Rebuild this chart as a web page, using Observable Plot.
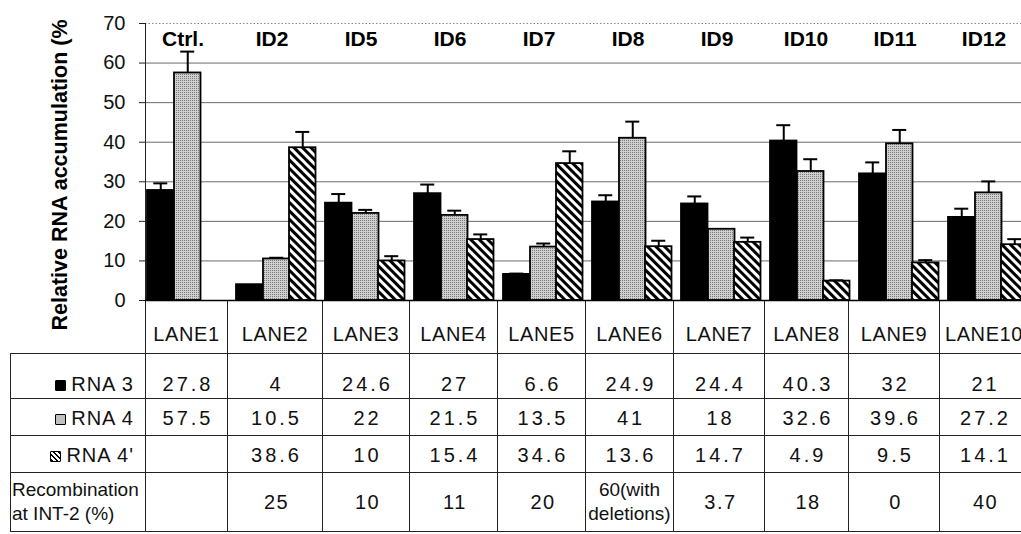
<!DOCTYPE html>
<html><head><meta charset="utf-8">
<script src="https://cdn.jsdelivr.net/npm/d3@7"></script>
<script src="https://cdn.jsdelivr.net/npm/@observablehq/plot@0.6"></script>
<style>
html,body{margin:0;padding:0;background:#fff;}
body{width:1021px;height:534px;overflow:hidden;font-family:"Liberation Sans",Arial,sans-serif;color:#111;}
#chart svg{overflow:visible;display:block;}
#tbl{border-collapse:collapse;table-layout:fixed;margin-left:10px;width:1018px;font-size:20px;}
#tbl td{border:1px solid #222;padding:0;text-align:center;vertical-align:middle;white-space:nowrap;overflow:hidden;}
#tbl tr.hdr{height:53px;}
#tbl tr.hdr td{border-top:none;vertical-align:bottom;padding-bottom:7px;letter-spacing:0.6px;}
#tbl tr.hdr td.blank{border-left:none;}
#tbl td.lab{text-align:right;padding-right:11px;letter-spacing:1px;}
#tbl td.num{letter-spacing:3px;padding-left:3px;}
#tbl tr.r3{height:45px;}
#tbl tr.r3 td{vertical-align:bottom;padding-bottom:2px;}
#tbl tr.r4, #tbl tr.r4p{height:37px;}
#tbl tr.r4 td, #tbl tr.r4p td{padding-top:3px;}
#tbl tr.rec{height:59px;}
#tbl tr.rec td{line-height:24px;}
#tbl tr.rec td.num{letter-spacing:1.5px;}
#tbl td.reclab{text-align:left;padding-left:1px;letter-spacing:0;font-size:19px;}
#tbl td.small{letter-spacing:0 !important;padding-left:0 !important;font-size:19px;}
.sw{display:inline-block;width:11px;height:11px;margin-right:5px;vertical-align:0px;box-sizing:border-box;border:1.5px solid #000;border-radius:1px;}
.sw.s3{background:#000;}
.sw.s4{background:#c0c0c0;}
.sw.s4p{background:repeating-linear-gradient(45deg,#000 0 1.8px,#fff 1.8px 3.6px);}
</style></head><body>
<div id="chart"></div>
<div id="tablewrap"></div>
<script>
// ---- data ----
const lanes = ["LANE1","LANE2","LANE3","LANE4","LANE5","LANE6","LANE7","LANE8","LANE9","LANE10"];
const ids = ["Ctrl.","ID2","ID5","ID6","ID7","ID8","ID9","ID10","ID11","ID12"];
const rna3 = [27.8, 4, 24.6, 27, 6.6, 24.9, 24.4, 40.3, 32, 21];
const rna4 = [57.5, 10.5, 22, 21.5, 13.5, 41, 18, 32.6, 39.6, 27.2];
const rna4p = [null, 38.6, 10, 15.4, 34.6, 13.6, 14.7, 4.9, 9.5, 14.1];
const rna3Err = [1.8, 0, 2.3, 2.3, 0.2, 1.7, 1.9, 4.0, 2.9, 2.2];
const rna4Err = [5.4, 0.3, 0.9, 1.2, 0.9, 4.2, 0, 3.1, 3.5, 2.9];
const rna4pErr = [null, 4.0, 1.2, 1.3, 3.1, 1.5, 1.2, 0.2, 0.7, 1.4];
const recomb = ["", "25", "10", "11", "20", "60(with<br>deletions)", "3.7", "18", "0", "40"];
const yTicks = [0, 10, 20, 30, 40, 50, 60, 70];
const yTitle = "Relative RNA accumulation (%";

const rows = lanes.map((lane, i) => ({
  lane, id: ids[i],
  r3: rna3[i], r4: rna4[i], r4p: rna4p[i],
  e3: rna3Err[i], e4: rna4Err[i], e4p: rna4pErr[i]
}));

// ---- layout / style ----
const X0 = 138, X1 = 1028;
const BW = (X1 - X0) / lanes.length;
const slot = [9, 36, 62], barW = 26.5, capW = 14;

function bars(key, fill, k) {
  return Plot.barY(rows.filter(d => d[key] != null), {
    x: "lane", y: key, fill, stroke: "#000", strokeWidth: 1.8,
    insetLeft: slot[k], insetRight: BW - slot[k] - barW
  });
}
function errs(key, ekey, k) {
  const data = rows.filter(d => d[key] != null && d[ekey] > 0);
  const c = slot[k] + barW / 2;
  return [
    Plot.ruleX(data, {x: "lane", y1: key, y2: d => d[key] + d[ekey], dx: c - BW / 2, stroke: "#000", strokeWidth: 2}),
    Plot.tickY(data, {x: "lane", y: d => d[key] + d[ekey], insetLeft: c - capW / 2, insetRight: BW - c - capW / 2, stroke: "#000", strokeWidth: 2})
  ];
}
const defs = () => {
  const g = d3.create("svg:defs");
  const h = g.append("pattern").attr("id", "hatch").attr("patternUnits", "userSpaceOnUse")
    .attr("width", 6).attr("height", 6).attr("patternTransform", "rotate(-45)");
  h.append("rect").attr("width", 6).attr("height", 6).attr("fill", "#fff");
  h.append("rect").attr("width", 3).attr("height", 6).attr("fill", "#000");
  const s = g.append("pattern").attr("id", "stip").attr("patternUnits", "userSpaceOnUse")
    .attr("width", 2).attr("height", 2);
  s.append("rect").attr("width", 2).attr("height", 2).attr("fill", "#cfcfcf");
  s.append("rect").attr("width", 1).attr("height", 1).attr("fill", "#7a7a7a");
  return g.node();
};

const plot = Plot.plot({
  width: 1021, height: 300,
  marginTop: 23, marginBottom: 0, marginLeft: 145, marginRight: 0,
  style: {fontFamily: "'Liberation Sans', Arial, sans-serif", fontSize: "20px", color: "#111", overflow: "visible"},
  x: {type: "band", domain: lanes, range: [X0, X1], padding: 0, axis: null},
  y: {domain: [0, 70], axis: null},
  marks: [
    defs,
    Plot.gridY(yTicks.filter(t => t > 0 && t < 70), {stroke: "#6a6a6a", strokeOpacity: 1, strokeWidth: 1}),
    Plot.ruleY([70], {stroke: "#888", strokeDasharray: "1.5,2", strokeWidth: 1}),
    Plot.axisY({ticks: yTicks, tickSize: 6, tickPadding: 14, fontSize: 20, label: null, stroke: "#222"}),
    Plot.frame({anchor: "left", stroke: "#222", strokeDasharray: "2,1"}),
    bars("r3", "#000", 0),
    bars("r4", "url(#stip)", 1),
    bars("r4p", "url(#hatch)", 2),
    ...errs("r3", "e3", 0),
    ...errs("r4", "e4", 1),
    ...errs("r4p", "e4p", 2),
    Plot.ruleY([0], {stroke: "#000", strokeWidth: 1.5}),
    Plot.text(rows, {x: "lane", text: "id", frameAnchor: "top", dy: 16, lineAnchor: "middle", fontWeight: "bold", fontSize: 21, fill: "#000"}),
    Plot.text([yTitle], {frameAnchor: "bottom-left", rotate: -90, textAnchor: "start", lineAnchor: "middle", dx: -85, dy: 30, fontWeight: "bold", fontSize: 21.5, fill: "#000"})
  ]
});
document.getElementById("chart").append(plot);

// ---- table ----
const colW = [135, 82, 95, 87, 88, 88, 88, 91, 84, 91, 89];
const fmt = v => v == null ? "" : String(v);
let html = '<table id="tbl"><colgroup>' + colW.map(w => `<col style="width:${w}px">`).join("") + '</colgroup>';
html += '<tr class="hdr"><td class="blank" style="border-bottom:1px solid #222"></td>' + lanes.map(l => `<td>${l}</td>`).join("") + '</tr>';
html += '<tr class="r3"><td class="lab"><span class="sw s3"></span>RNA 3</td>' + rna3.map(v => `<td class="num">${fmt(v)}</td>`).join("") + '</tr>';
html += '<tr class="r4"><td class="lab"><span class="sw s4"></span>RNA 4</td>' + rna4.map(v => `<td class="num">${fmt(v)}</td>`).join("") + '</tr>';
html += '<tr class="r4p"><td class="lab"><span class="sw s4p"></span>RNA 4\'</td>' + rna4p.map(v => `<td class="num">${fmt(v)}</td>`).join("") + '</tr>';
html += '<tr class="rec"><td class="reclab">Recombination<br>at INT-2 (%)</td>' + recomb.map(v => `<td class="num${v.includes("<br>") ? " small" : ""}">${v}</td>`).join("") + '</tr>';
html += '</table>';
document.getElementById("tablewrap").innerHTML = html;
</script>
</body></html>
